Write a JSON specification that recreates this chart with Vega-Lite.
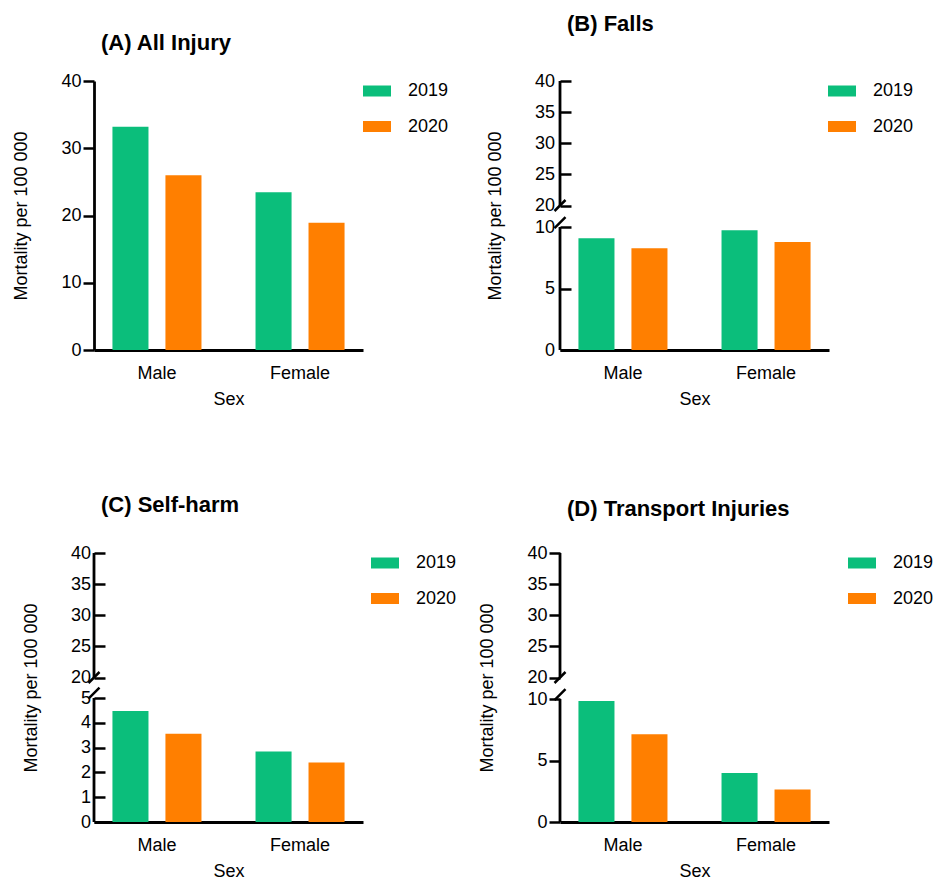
{
  "$schema": "https://vega.github.io/schema/vega-lite/v6.json",
  "padding": {"left": 12, "top": 12, "right": 5, "bottom": 5},
  "config": {
    "font": "Liberation Sans",
    "view": {"stroke": null},
    "axis": {"grid": false, "labelOverlap": false, "labelFontSize": 18, "titleFontSize": 18, "titleFontWeight": "normal", "labelColor": "#000", "titleColor": "#000", "domainColor": "#000", "tickColor": "#000", "domainWidth": 2.8, "tickWidth": 2.5, "labelFont": "Liberation Sans", "titleFont": "Liberation Sans"},
    "axisX": {"ticks": false, "tickSize": 0, "labelPadding": 14, "titlePadding": 8, "labelAngle": 0},
    "axisY": {"tickSize": 11, "labelPadding": 2, "titlePadding": 30, "tickCount": 20},
    "legend": {"orient": "right", "padding": 0, "labelFontSize": 18, "labelFont": "Liberation Sans", "labelColor": "#000", "symbolType": "M-1.4,-0.55H1.4V0.55H-1.4Z", "symbolSize": 400, "symbolStrokeWidth": 0, "rowPadding": 16.5, "labelOffset": 21},
    "title": {"font": "Liberation Sans", "fontSize": 22, "fontWeight": "bold", "color": "#000", "anchor": "start", "frame": "group", "baseline": "alphabetic", "dx": 7}
  },
  "data": {"values": [
    {"panel": "A", "sex": "Male", "year": "2019", "value": 33.2},
    {"panel": "A", "sex": "Male", "year": "2020", "value": 26.0},
    {"panel": "A", "sex": "Female", "year": "2019", "value": 23.45},
    {"panel": "A", "sex": "Female", "year": "2020", "value": 18.93},
    {"panel": "B", "sex": "Male", "year": "2019", "value": 9.08},
    {"panel": "B", "sex": "Male", "year": "2020", "value": 8.27},
    {"panel": "B", "sex": "Female", "year": "2019", "value": 9.73},
    {"panel": "B", "sex": "Female", "year": "2020", "value": 8.78},
    {"panel": "C", "sex": "Male", "year": "2019", "value": 4.48},
    {"panel": "C", "sex": "Male", "year": "2020", "value": 3.56},
    {"panel": "C", "sex": "Female", "year": "2019", "value": 2.84},
    {"panel": "C", "sex": "Female", "year": "2020", "value": 2.40},
    {"panel": "D", "sex": "Male", "year": "2019", "value": 9.84},
    {"panel": "D", "sex": "Male", "year": "2020", "value": 7.13},
    {"panel": "D", "sex": "Female", "year": "2019", "value": 3.99},
    {"panel": "D", "sex": "Female", "year": "2020", "value": 2.64}
  ]},
  "columns": 2,
  "spacing": {"row": 203, "column": 197},
  "bounds": "flush",
  "resolve": {"scale": {"color": "independent", "y": "independent", "x": "independent"}},
  "concat": [
    {
      "width": 269, "height": 269,
      "title": {"text": "(A) All Injury", "offset": 17.5},
      "transform": [{"filter": "datum.panel == 'A'"}],
      "layer": [
        {
          "mark": {"type": "bar"},
          "encoding": {
            "x": {"field": "sex", "type": "nominal", "sort": ["Male", "Female"], "scale": {"paddingInner": 0.12, "paddingOuter": 0}, "axis": {"title": "Sex"}},
            "xOffset": {"field": "year", "type": "nominal", "scale": {"paddingInner": 0.32, "paddingOuter": 0.348}},
            "y": {"field": "value", "type": "quantitative", "scale": {"domain": [0, 40], "nice": false}, "axis": {"title": "Mortality per 100 000", "values": [0, 10, 20, 30, 40]}},
            "color": {"field": "year", "type": "nominal", "scale": {"domain": ["2019", "2020"], "range": ["#0BBE7B", "#FF7F00"]}, "legend": {"title": null, "offset": 4}}
          }
        }
      ]
    },
    {
      "width": 269, "height": 269,
      "title": {"text": "(B) Falls", "offset": 36.5},
      "transform": [{"filter": "datum.panel == 'B'"}],
      "layer": [
        {
          "mark": {"type": "bar"},
          "encoding": {
            "x": {"field": "sex", "type": "nominal", "sort": ["Male", "Female"], "scale": {"paddingInner": 0.12, "paddingOuter": 0}, "axis": {"title": "Sex"}},
            "xOffset": {"field": "year", "type": "nominal", "scale": {"paddingInner": 0.32, "paddingOuter": 0.348}},
            "y": {"field": "value", "type": "quantitative", "scale": {"domain": [0, 10, 20, 40], "range": [269, 146, 124.5, 0], "nice": false, "zero": false}, "axis": {"title": "Mortality per 100 000", "values": [0, 5, 10, 20, 25, 30, 35, 40], "domain": false, "tickSize": -11, "labelPadding": 16.5}},
            "color": {"field": "year", "type": "nominal", "scale": {"domain": ["2019", "2020"], "range": ["#0BBE7B", "#FF7F00"]}, "legend": {"title": null, "offset": 3}}
          }
        },
        {
          "transform": [{"filter": "datum.sex == 'Male' && datum.year == '2019'"}],
          "mark": {"type": "rule", "color": "#000", "strokeWidth": 2.8},
          "encoding": {"x": {"datum": "Male", "bandPosition": 0}, "y": {"datum": 0}, "y2": {"datum": 10}}
        },
        {
          "transform": [{"filter": "datum.sex == 'Male' && datum.year == '2019'"}],
          "mark": {"type": "rule", "color": "#000", "strokeWidth": 2.8},
          "encoding": {"x": {"datum": "Male", "bandPosition": 0}, "y": {"datum": 20}, "y2": {"datum": 40}}
        },
        {
          "transform": [{"filter": "datum.sex == 'Male' && datum.year == '2019'"}],
          "mark": {"type": "point", "shape": "M-1,1L1,-1", "filled": false, "stroke": "#000", "strokeWidth": 2.5, "opacity": 1, "size": 121},
          "encoding": {"x": {"datum": "Male", "bandPosition": 0}, "y": {"datum": 20}}
        },
        {
          "transform": [{"filter": "datum.sex == 'Male' && datum.year == '2019'"}],
          "mark": {"type": "point", "shape": "M-1,1L1,-1", "filled": false, "stroke": "#000", "strokeWidth": 2.5, "opacity": 1, "size": 121},
          "encoding": {"x": {"datum": "Male", "bandPosition": 0}, "y": {"datum": 12}}
        }
      ]
    },
    {
      "width": 269, "height": 269,
      "title": {"text": "(C) Self-harm", "offset": 27.5},
      "transform": [{"filter": "datum.panel == 'C'"}],
      "layer": [
        {
          "mark": {"type": "bar"},
          "encoding": {
            "x": {"field": "sex", "type": "nominal", "sort": ["Male", "Female"], "scale": {"paddingInner": 0.12, "paddingOuter": 0}, "axis": {"title": "Sex"}},
            "xOffset": {"field": "year", "type": "nominal", "scale": {"paddingInner": 0.32, "paddingOuter": 0.348}},
            "y": {"field": "value", "type": "quantitative", "scale": {"domain": [0, 5, 20, 40], "range": [269, 145, 124.5, 0], "nice": false, "zero": false}, "axis": {"title": "Mortality per 100 000", "values": [0, 1, 2, 3, 4, 5, 20, 25, 30, 35, 40], "domain": false, "tickSize": -11, "labelPadding": 14.5}},
            "color": {"field": "year", "type": "nominal", "scale": {"domain": ["2019", "2020"], "range": ["#0BBE7B", "#FF7F00"]}, "legend": {"title": null, "offset": 12}}
          }
        },
        {
          "transform": [{"filter": "datum.sex == 'Male' && datum.year == '2019'"}],
          "mark": {"type": "rule", "color": "#000", "strokeWidth": 2.8},
          "encoding": {"x": {"datum": "Male", "bandPosition": 0}, "y": {"datum": 0}, "y2": {"datum": 5}}
        },
        {
          "transform": [{"filter": "datum.sex == 'Male' && datum.year == '2019'"}],
          "mark": {"type": "rule", "color": "#000", "strokeWidth": 2.8},
          "encoding": {"x": {"datum": "Male", "bandPosition": 0}, "y": {"datum": 20}, "y2": {"datum": 40}}
        },
        {
          "transform": [{"filter": "datum.sex == 'Male' && datum.year == '2019'"}],
          "mark": {"type": "point", "shape": "M-1,1L1,-1", "filled": false, "stroke": "#000", "strokeWidth": 2.5, "opacity": 1, "size": 121},
          "encoding": {"x": {"datum": "Male", "bandPosition": 0}, "y": {"datum": 20}}
        },
        {
          "transform": [{"filter": "datum.sex == 'Male' && datum.year == '2019'"}],
          "mark": {"type": "point", "shape": "M-1,1L1,-1", "filled": false, "stroke": "#000", "strokeWidth": 2.5, "opacity": 1, "size": 121},
          "encoding": {"x": {"datum": "Male", "bandPosition": 0}, "y": {"datum": 8.5}}
        }
      ]
    },
    {
      "width": 269, "height": 269,
      "title": {"text": "(D) Transport Injuries", "offset": 23.5},
      "transform": [{"filter": "datum.panel == 'D'"}],
      "layer": [
        {
          "mark": {"type": "bar"},
          "encoding": {
            "x": {"field": "sex", "type": "nominal", "sort": ["Male", "Female"], "scale": {"paddingInner": 0.12, "paddingOuter": 0}, "axis": {"title": "Sex"}},
            "xOffset": {"field": "year", "type": "nominal", "scale": {"paddingInner": 0.32, "paddingOuter": 0.348}},
            "y": {"field": "value", "type": "quantitative", "scale": {"domain": [0, 10, 20, 40], "range": [269, 146, 124.5, 0], "nice": false, "zero": false}, "axis": {"title": "Mortality per 100 000", "values": [0, 5, 10, 20, 25, 30, 35, 40], "domain": false}},
            "color": {"field": "year", "type": "nominal", "scale": {"domain": ["2019", "2020"], "range": ["#0BBE7B", "#FF7F00"]}, "legend": {"title": null, "offset": 23}}
          }
        },
        {
          "transform": [{"filter": "datum.sex == 'Male' && datum.year == '2019'"}],
          "mark": {"type": "rule", "color": "#000", "strokeWidth": 2.8},
          "encoding": {"x": {"datum": "Male", "bandPosition": 0}, "y": {"datum": 0}, "y2": {"datum": 10}}
        },
        {
          "transform": [{"filter": "datum.sex == 'Male' && datum.year == '2019'"}],
          "mark": {"type": "rule", "color": "#000", "strokeWidth": 2.8},
          "encoding": {"x": {"datum": "Male", "bandPosition": 0}, "y": {"datum": 20}, "y2": {"datum": 40}}
        },
        {
          "transform": [{"filter": "datum.sex == 'Male' && datum.year == '2019'"}],
          "mark": {"type": "point", "shape": "M-1,1L1,-1", "filled": false, "stroke": "#000", "strokeWidth": 2.5, "opacity": 1, "size": 121},
          "encoding": {"x": {"datum": "Male", "bandPosition": 0}, "y": {"datum": 20}}
        },
        {
          "transform": [{"filter": "datum.sex == 'Male' && datum.year == '2019'"}],
          "mark": {"type": "point", "shape": "M-1,1L1,-1", "filled": false, "stroke": "#000", "strokeWidth": 2.5, "opacity": 1, "size": 121},
          "encoding": {"x": {"datum": "Male", "bandPosition": 0}, "y": {"datum": 12}}
        }
      ]
    }
  ]
}
